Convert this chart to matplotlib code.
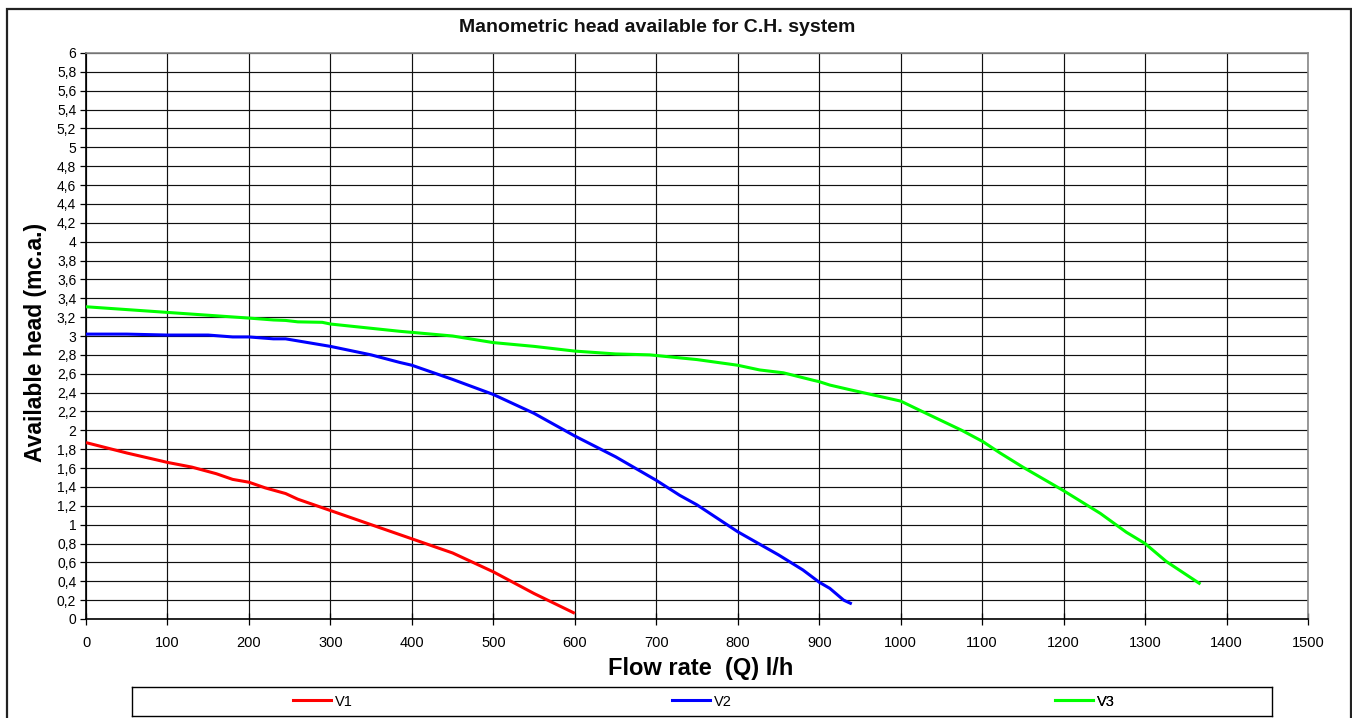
import numpy as np
import matplotlib
matplotlib.use("Agg")
import matplotlib.pyplot as plt
from matplotlib.patches import Rectangle
from matplotlib.lines import Line2D

plt.rcParams['font.family'] = ['Liberation Sans', 'DejaVu Sans']

# pump curves: flow rate (l/h) vs available head (m)
q_v1 = [0, 50, 100, 130, 160, 180, 200, 220, 245, 260, 300, 350, 400, 450, 480, 500, 550, 600]
h_v1 = [1.87, 1.76, 1.66, 1.61, 1.54, 1.48, 1.45, 1.39, 1.33, 1.27, 1.15, 1.0, 0.85, 0.70, 0.58, 0.50, 0.27, 0.06]

q_v2 = [0, 50, 100, 150, 180, 200, 230, 245, 300, 350, 385, 400, 450, 500, 550, 600, 650,
        700, 729, 750, 800, 850, 880, 900, 913, 930, 940]
h_v2 = [3.02, 3.02, 3.01, 3.01, 2.99, 2.99, 2.97, 2.97, 2.89, 2.80, 2.72, 2.69, 2.54, 2.38, 2.18, 1.94, 1.72,
        1.47, 1.31, 1.21, 0.925, 0.68, 0.52, 0.39, 0.325, 0.20, 0.16]

q_v3 = [0, 100, 200, 230, 245, 260, 290, 300, 385, 450, 500, 550, 600, 650, 692, 750, 800, 827, 856,
        893, 900, 913, 938, 1000, 1024, 1075, 1101, 1122, 1150, 1200, 1245, 1277, 1300, 1326, 1368]
h_v3 = [3.31, 3.25, 3.19, 3.17, 3.165, 3.15, 3.145, 3.127, 3.05, 3.0, 2.93, 2.89, 2.84, 2.81, 2.80, 2.75, 2.69, 2.64, 2.61,
        2.53, 2.516, 2.48, 2.43, 2.31, 2.21, 2.0, 1.88, 1.76, 1.61, 1.36, 1.12, 0.92, 0.80, 0.61, 0.37]

series = [("V1", q_v1, h_v1, "#ff0000"),
          ("V2", q_v2, h_v2, "#0000ff"),
          ("V3", q_v3, h_v3, "#00ff00")]

x_ticks = np.arange(0, 1501, 100)
y_ticks = np.round(np.arange(0, 6.01, 0.2), 1)

W, H = 1352, 718
fig = plt.figure(figsize=(W / 100, H / 100), dpi=100)
fig.patch.set_facecolor("white")

# outer chart frame (bottom edge runs off the image)
fig.add_artist(Rectangle((7 / W, -0.05), (1351 - 7) / W, 1 - 9 / H + 0.05,
                         transform=fig.transFigure, fill=False, ec="#222222", lw=1.6, clip_on=False))

ax = fig.add_axes([86 / W, 1 - 619 / H, (1308 - 86) / W, (619 - 53) / H])
for name, q, h, c in series:
    ax.plot(q, h, color=c, lw=2.2, zorder=3, solid_capstyle="butt")

ax.set_xlim(0, 1500)
ax.set_ylim(0, 6)
ax.set_xticks(x_ticks)
ax.set_yticks(y_ticks)
ax.set_xticklabels([str(v) for v in x_ticks], fontsize=10.5)
ax.set_yticklabels(["{:g}".format(v).replace(".", ",") for v in y_ticks], fontsize=10)
ax.grid(True, color="#111111", lw=0.85, zorder=1)
ax.tick_params(axis="y", direction="out", length=4, width=0.9, pad=3)
ax.tick_params(axis="x", direction="inout", length=8, width=0.9, pad=8)
ax.spines["left"].set_color("black")
ax.spines["bottom"].set_color("black")
ax.spines["top"].set_color("#888888")
ax.spines["right"].set_color("#888888")
for s in ax.spines.values():
    s.set_linewidth(1.2)

fig.text(657 / W, 1 - 27 / H, "Manometric head available for C.H. system",
         ha="center", va="center", fontsize=14, fontweight="bold", color="#111111")
fig.text(36 / W, 1 - 342 / H, "Available head (mc.a.)", rotation=90,
         ha="center", va="center", fontsize=16.5, fontweight="bold")
fig.text(701 / W, 1 - 668 / H, "Flow rate  (Q) l/h",
         ha="center", va="center", fontsize=17, fontweight="bold")

# legend box along the bottom
lax = fig.add_axes([132 / W, 1 - 716 / H, (1272 - 132) / W, (716 - 687) / H])
lax.set_xticks([])
lax.set_yticks([])
for s in lax.spines.values():
    s.set_color("black")
    s.set_linewidth(1.0)
starts = [293, 672, 1055]
for (name, q, h, c), x0 in zip(series, starts):
    leg = lax.legend([Line2D([], [], color=c, lw=2.2)], [name], loc="center left",
                     bbox_to_anchor=((x0 - 132) / 1140, 0.5), frameon=False, fontsize=10.5,
                     borderpad=0, borderaxespad=0, handlelength=2.6, handletextpad=0.25)
    lax.add_artist(leg)

fig.savefig("out.png", dpi=100)
